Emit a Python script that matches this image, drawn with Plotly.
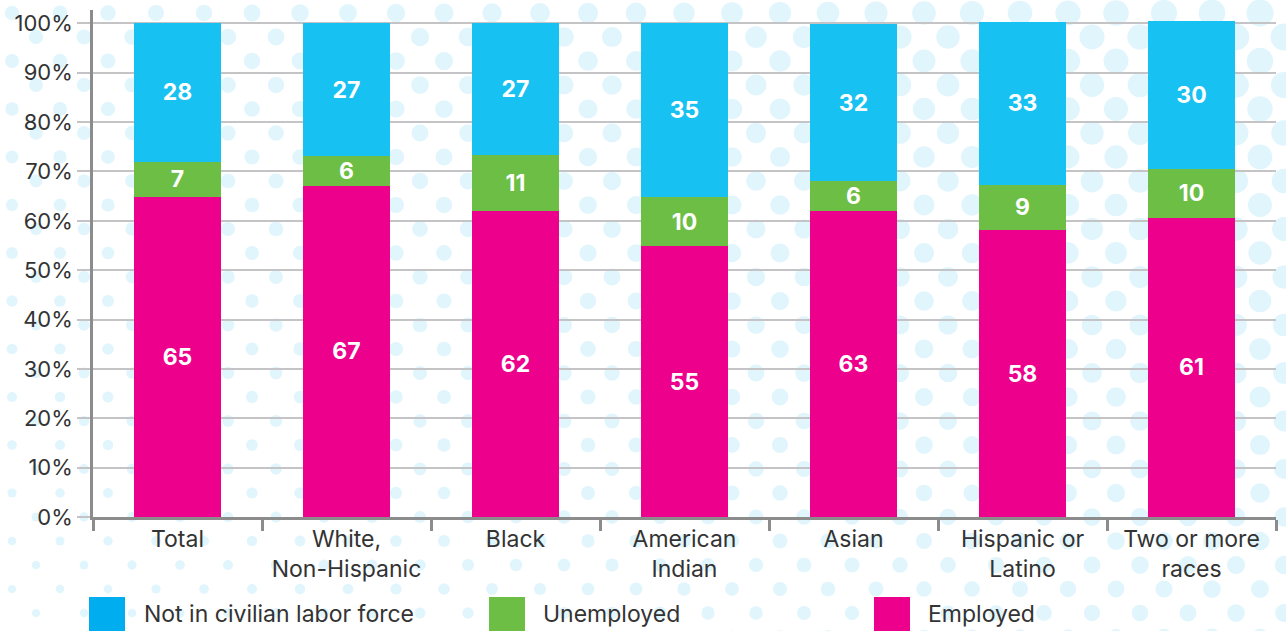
import base64
import plotly.graph_objects as go

# ---------------- data ----------------
categories = ["Total", "White,<br>Non-Hispanic", "Black", "American<br>Indian",
              "Asian", "Hispanic or<br>Latino", "Two or more<br>races"]
employed = [64.8, 67.1, 62.0, 54.8, 62.0, 58.1, 60.6]
unemployed = [7.2, 6.0, 11.3, 10.0, 6.1, 9.2, 9.9]
not_in_lf = [28.0, 26.9, 26.7, 35.2, 31.7, 33.0, 29.9]
employed_labels = ["65", "67", "62", "55", "63", "58", "61"]
unemployed_labels = ["7", "6", "11", "10", "6", "9", "10"]
not_in_lf_labels = ["28", "27", "27", "35", "32", "33", "30"]
y_tick_values = [0, 10, 20, 30, 40, 50, 60, 70, 80, 90, 100]
y_tick_labels = ["0%", "10%", "20%", "30%", "40%", "50%", "60%", "70%", "80%", "90%", "100%"]
legend_names = ["Not in civilian labor force", "Unemployed", "Employed"]

# ---------------- style ----------------
W, H = 1286, 631
ML, MR, MT, MB = 93, 10, 10, 114
PW, PH = W - ML - MR, H - MT - MB
C_BLUE, C_BLUE_LEG, C_GREEN, C_MAGENTA = "#17C1F1", "#00AEEF", "#6DBE45", "#EC008C"
TXT = "#333333"
FONT = "Inter, Lato, sans-serif"

fig = go.Figure()
label_font = dict(family=FONT, size=23, color="white", weight="bold")
for vals, labs, col, name in [
    (employed, employed_labels, C_MAGENTA, legend_names[2]),
    (unemployed, unemployed_labels, C_GREEN, legend_names[1]),
    (not_in_lf, not_in_lf_labels, C_BLUE, legend_names[0]),
]:
    fig.add_trace(go.Bar(
        x=categories, y=vals, name=name, marker=dict(color=col, line=dict(width=0)),
        text=labs, textposition="inside", insidetextanchor="middle",
        textangle=0, constraintext="none", textfont=label_font,
        hoverinfo="name+y", showlegend=False,
    ))

# ---------------- background dots (decoration) ----------------
circles = []
row = 0
y = 13.0
while y < H + 20:
    x = 12.0 if row % 2 == 0 else 36.0
    while x < W + 20:
        u = x / W
        v = 1 - y / H
        d = 7.5 + 10 * u + 7 * v + 3 * u * v
        circles.append(f'<circle cx="{x:.1f}" cy="{y:.1f}" r="{d/2:.2f}"/>')
        x += 48
    y += 24
    row += 1
svg = (f'<svg xmlns="http://www.w3.org/2000/svg" width="{W}" height="{H}" '
       f'viewBox="0 0 {W} {H}"><g fill="#E1F5FC">' + "".join(circles) + '</g></svg>')
uri = "data:image/svg+xml;base64," + base64.b64encode(svg.encode()).decode()
fig.add_layout_image(dict(
    source=uri, xref="paper", yref="paper",
    x=-ML / PW, y=1 + MT / PH, sizex=W / PW, sizey=H / PH,
    xanchor="left", yanchor="top", sizing="stretch", layer="below",
))

# ---------------- manual legend (large squares) ----------------
def px_x(p):
    return (p - ML) / PW

def px_y(p):
    return (H - MB - p) / PH

legend_items = [
    (legend_names[0], C_BLUE_LEG, 89, 142),
    (legend_names[1], C_GREEN, 489, 541),
    (legend_names[2], C_MAGENTA, 874, 926),
]
for name, col, sq_x, tx in legend_items:
    fig.add_shape(type="rect", xref="paper", yref="paper",
                  x0=px_x(sq_x), x1=px_x(sq_x + 36), y0=px_y(640), y1=px_y(597),
                  fillcolor=col, line=dict(width=0))
    fig.add_annotation(text=name, xref="paper", yref="paper",
                       x=px_x(tx), y=px_y(614), xanchor="left", yanchor="middle",
                       showarrow=False, font=dict(family=FONT, size=23, color=TXT))

fig.update_layout(
    width=W, height=H, barmode="stack", bargap=0.48,
    margin=dict(l=ML, r=MR, t=MT, b=MB),
    paper_bgcolor="white", plot_bgcolor="rgba(0,0,0,0)",
    font=dict(family=FONT, size=22, color=TXT),
    showlegend=False,
)
fig.update_xaxes(
    showline=True, linecolor="#8C8C8C", linewidth=2.5,
    ticks="outside", tickson="boundaries", ticklen=11, tickwidth=2.5, tickcolor="#8C8C8C",
    tickfont=dict(family=FONT, size=23, color=TXT), showgrid=False,
)
fig.update_yaxes(
    range=[0, 102.7], tickvals=y_tick_values, ticktext=y_tick_labels,
    showline=True, linecolor="#8C8C8C", linewidth=2.5,
    showgrid=True, gridcolor="#C4C4C6", gridwidth=2, zeroline=False,
    ticks="outside", ticklen=13, tickwidth=2, tickcolor="#C4C4C6",
    tickfont=dict(family=FONT, size=22, color=TXT),
)

fig.write_html(
    "out.html",
    config={"displayModeBar": False},
    post_script="document.body.style.margin='0px';document.body.style.overflow='hidden';",
)
